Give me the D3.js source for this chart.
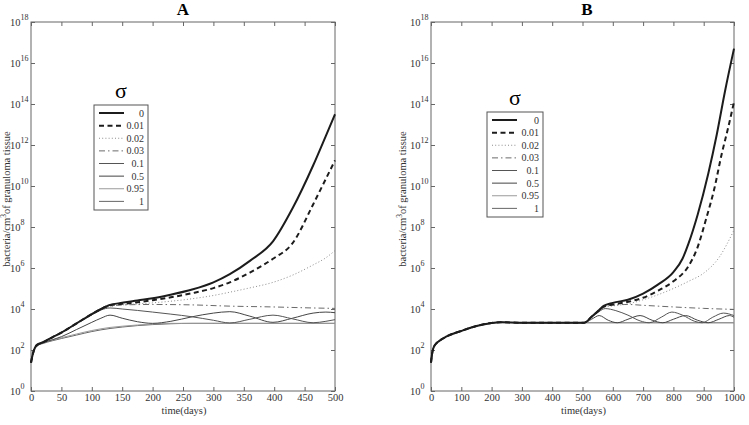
<!DOCTYPE html>
<html>
<head>
<meta charset="utf-8" />
<title>Bacteria in granuloma tissue, panels A and B</title>
<script src="https://d3js.org/d3.v7.min.js"></script>
<style>
  body { margin: 0; background: #fff; }
  svg { font-family: "Liberation Serif", "Times New Roman", serif; }
</style>
</head>
<body>
<div id="chart"></div>
<script>
// legend entries (sigma values), same order for both panels
const sigmas = ["0", "0.01", "0.02", "0.03", "0.1", "0.5", "0.95", "1"];

// axis ticks
const expTicks = [0, 2, 4, 6, 8, 10, 12, 14, 16, 18];
const dayTicksA = [0, 50, 100, 150, 200, 250, 300, 350, 400, 450, 500];
const dayTicksB = [0, 100, 200, 300, 400, 500, 600, 700, 800, 900, 1000];

// Panel A, each point is [day, log10(bacteria/cm3)]
const a_s0 = [[0,1.38],[3,1.8],[6,2.08],[10,2.25],[20,2.38],[35,2.62],[50,2.85],[75,3.3],[100,3.75],[115,4.0],[130,4.2],[150,4.3],[175,4.42],[200,4.52],[230,4.7],[265,4.95],[300,5.3],[327,5.7],[360,6.35],[398,7.3],[430,8.9],[464,11.0],[485,12.45],[500,13.5]];
const a_s001 = [[0,1.38],[3,1.8],[6,2.08],[10,2.25],[20,2.38],[35,2.62],[50,2.85],[75,3.3],[100,3.75],[115,4.0],[130,4.18],[150,4.25],[175,4.33],[200,4.43],[230,4.57],[265,4.77],[300,5.02],[327,5.3],[360,5.78],[398,6.45],[430,7.2],[464,9.1],[485,10.35],[500,11.25]];
const a_s002 = [[0,1.38],[3,1.8],[6,2.08],[10,2.25],[20,2.38],[35,2.62],[50,2.85],[75,3.3],[100,3.75],[115,4.0],[130,4.15],[150,4.2],[175,4.25],[200,4.3],[230,4.38],[265,4.5],[300,4.66],[327,4.82],[360,5.03],[398,5.3],[430,5.65],[464,6.15],[485,6.5],[500,6.85]];
const a_s003 = [[0,1.38],[3,1.8],[6,2.08],[10,2.25],[20,2.38],[35,2.62],[50,2.85],[75,3.3],[100,3.75],[115,4.0],[130,4.12],[150,4.2],[200,4.22],[265,4.2],[327,4.14],[398,4.1],[464,4.05],[500,4.03]];
const a_s01 = [[0,1.38],[3,1.8],[6,2.08],[10,2.25],[20,2.38],[35,2.62],[50,2.85],[75,3.3],[100,3.72],[115,3.95],[130,4.05],[150,4.0],[175,3.93],[200,3.85],[230,3.75],[265,3.62],[300,3.45],[327,3.32],[360,3.5],[398,3.7],[430,3.52],[464,3.33],[485,3.4],[500,3.48]];
const a_s05 = [[0,1.38],[3,1.8],[6,2.08],[10,2.2],[20,2.35],[35,2.5],[50,2.65],[75,3.0],[100,3.35],[115,3.55],[130,3.7],[150,3.55],[175,3.38],[200,3.3],[230,3.4],[265,3.62],[300,3.8],[327,3.87],[360,3.65],[398,3.35],[430,3.55],[464,3.8],[485,3.85],[500,3.82]];
const a_s095 = [[0,1.38],[3,1.8],[6,2.08],[10,2.2],[20,2.35],[35,2.48],[50,2.6],[75,2.78],[100,2.95],[130,3.1],[150,3.16],[175,3.22],[200,3.27],[230,3.3],[300,3.3],[400,3.3],[500,3.3]];
const a_s1 = [[0,1.38],[3,1.8],[6,2.08],[10,2.2],[20,2.32],[35,2.45],[50,2.56],[75,2.73],[100,2.9],[130,3.05],[150,3.12],[175,3.19],[200,3.24],[230,3.28],[265,3.3],[400,3.3],[500,3.3]];

// Panel B
const b_start = [[0,1.38],[4,1.85],[8,2.1],[15,2.28],[25,2.42],[50,2.65],[100,2.93],[150,3.17],[200,3.32],[230,3.35],[300,3.33],[400,3.33],[505,3.33]];
const b_s0 = [[530,3.62],[555,3.95],[570,4.15],[600,4.3],[650,4.45],[700,4.75],[750,5.2],[800,5.8],[830,6.45],[850,7.2],[880,8.6],[915,10.6],[943,12.5],[970,14.6],[1000,16.7]];
const b_s001 = [[530,3.62],[555,3.93],[570,4.12],[600,4.22],[650,4.35],[700,4.55],[750,4.9],[800,5.35],[850,6.1],[877,6.9],[910,8.5],[934,9.8],[960,11.6],[980,12.8],[1000,14.1]];
const b_s002 = [[530,3.6],[555,3.9],[570,4.08],[600,4.15],[650,4.25],[700,4.45],[750,4.7],[800,5.0],[850,5.35],[900,5.75],[950,6.5],[1000,7.85]];
const b_s003 = [[530,3.6],[555,3.9],[570,4.07],[600,4.2],[650,4.22],[700,4.18],[800,4.1],[900,4.03],[1000,3.98]];
const b_s01 = [[530,3.6],[555,3.88],[575,4.02],[610,3.92],[650,3.7],[690,3.42],[720,3.33],[760,3.6],[795,3.85],[830,3.7],[870,3.4],[895,3.33],[930,3.6],[965,3.8],[1000,3.68]];
const b_s05 = [[530,3.5],[555,3.68],[585,3.45],[615,3.33],[650,3.5],[690,3.68],[730,3.45],[765,3.33],[800,3.5],[840,3.68],[880,3.45],[915,3.33],[950,3.5],[985,3.68],[1000,3.6]];
const b_s095 = [[700,3.33],[1000,3.33]];
const b_s1 = [[700,3.33],[1000,3.33]];

const seriesA = [a_s0, a_s001, a_s002, a_s003, a_s01, a_s05, a_s095, a_s1];
const seriesB = [b_s0, b_s001, b_s002, b_s003, b_s01, b_s05, b_s095, b_s1].map(s => b_start.concat(s));

// one style per sigma
const styles = [
  { stroke: "#1c1c1c", width: 2,   dash: null },
  { stroke: "#1c1c1c", width: 2,   dash: "5,3.5" },
  { stroke: "#8c8c8c", width: 1,   dash: "1,2.2" },
  { stroke: "#6a6a6a", width: 1,   dash: "6,3,1.5,3" },
  { stroke: "#555",    width: 1,   dash: null },
  { stroke: "#444",    width: 1,   dash: null },
  { stroke: "#9a9a9a", width: 1,   dash: null },
  { stroke: "#666",    width: 1,   dash: null }
];

const svg = d3.select("#chart").append("svg").attr("width", 749).attr("height", 425);
const plotTop = 22, plotBottom = 391;

function drawPanel(p) {
  const x = d3.scaleLinear().domain([0, p.maxDay]).range([p.left, p.right]);
  const y = d3.scaleLog().domain([1, 1e18]).range([plotBottom, plotTop]);
  const g = svg.append("g");

  // frame and inward ticks on all sides
  g.append("rect")
    .attr("x", p.left).attr("y", plotTop)
    .attr("width", p.right - p.left).attr("height", plotBottom - plotTop)
    .attr("fill", "none").attr("stroke", "#666");

  const yVals = expTicks.map(e => 10 ** e);
  const axes = [
    [d3.axisBottom(x).tickValues(p.days).tickFormat(d3.format("d")).tickSize(-4).tickPadding(3), `translate(0,${plotBottom})`],
    [d3.axisTop(x).tickValues(p.days).tickSize(-4).tickFormat(""), `translate(0,${plotTop})`],
    [d3.axisLeft(y).tickValues(yVals).tickSize(-4).tickFormat(""), `translate(${p.left},0)`],
    [d3.axisRight(y).tickValues(yVals).tickSize(-4).tickFormat(""), `translate(${p.right},0)`]
  ];
  axes.forEach(([ax, tr]) => {
    const a = g.append("g").attr("transform", tr).call(ax);
    a.select(".domain").remove();
    a.selectAll("line").attr("stroke", "#666");
    a.attr("font-family", null);
    a.selectAll("text").attr("fill", "#333").style("font-size", "10.5px");
  });

  // 10^n labels
  expTicks.forEach(e => {
    const t = g.append("text")
      .attr("x", p.left - 21).attr("y", y(10 ** e) + 4)
      .attr("fill", "#333").style("font-size", "10.5px");
    t.append("tspan").text("10");
    t.append("tspan").attr("dy", -6).style("font-size", "8px").text(e);
  });

  // curves, thin ones first
  const line = d3.line()
    .x(d => x(d[0]))
    .y(d => y(10 ** d[1]))
    .curve(d3.curveMonotoneX);
  for (let i = p.series.length - 1; i >= 0; i--) {
    const st = styles[i];
    g.append("path")
      .attr("d", line(p.series[i]))
      .attr("fill", "none")
      .attr("stroke", st.stroke)
      .attr("stroke-width", st.width)
      .attr("stroke-dasharray", st.dash);
  }

  // titles and axis labels
  g.append("text").attr("x", p.titleX).attr("y", 15)
    .attr("text-anchor", "middle").style("font-size", "17px").style("font-weight", "bold")
    .text(p.title);

  g.append("text").attr("x", (p.left + p.right) / 2 + 1).attr("y", 414)
    .attr("text-anchor", "middle").attr("fill", "#333").style("font-size", "10.5px")
    .text("time(days)");

  const yl = g.append("text")
    .attr("transform", `translate(${p.ylabelX},199) rotate(-90)`)
    .attr("text-anchor", "middle").attr("fill", "#333").style("font-size", "10.5px");
  yl.append("tspan").text("bacteria/cm");
  yl.append("tspan").attr("dy", -4).style("font-size", "7.5px").text("3");
  yl.append("tspan").attr("dy", 4).text("of granuloma tissue");

  // legend
  const lg = p.legend;
  g.append("text").attr("x", (lg.x0 + lg.x1) / 2).attr("y", lg.y0 - 7)
    .attr("text-anchor", "middle").style("font-size", "22px").text("σ");
  g.append("rect")
    .attr("x", lg.x0).attr("y", lg.y0)
    .attr("width", lg.x1 - lg.x0).attr("height", lg.y1 - lg.y0)
    .attr("fill", "#fff").attr("stroke", "#555");
  const rowH = (lg.y1 - lg.y0 - 4) / sigmas.length;
  sigmas.forEach((s, i) => {
    const ry = lg.y0 + 8 + i * rowH;
    const st = styles[i];
    g.append("line")
      .attr("x1", lg.x0 + 5).attr("x2", lg.x0 + 30)
      .attr("y1", ry).attr("y2", ry)
      .attr("stroke", st.stroke).attr("stroke-width", st.width)
      .attr("stroke-dasharray", st.dash);
    g.append("text").attr("x", lg.x1 - 4).attr("y", ry + 3.5)
      .attr("text-anchor", "end").attr("fill", "#333").style("font-size", "10px")
      .text(s);
  });
}

drawPanel({
  title: "A", titleX: 183, left: 31, right: 335, maxDay: 500, days: dayTicksA,
  series: seriesA, ylabelX: 10,
  legend: { x0: 94, x1: 148, y0: 105, y1: 210 }
});
drawPanel({
  title: "B", titleX: 587, left: 431, right: 734, maxDay: 1000, days: dayTicksB,
  series: seriesB, ylabelX: 405.5,
  legend: { x0: 487, x1: 543, y0: 112, y1: 217 }
});
</script>
</body>
</html>
